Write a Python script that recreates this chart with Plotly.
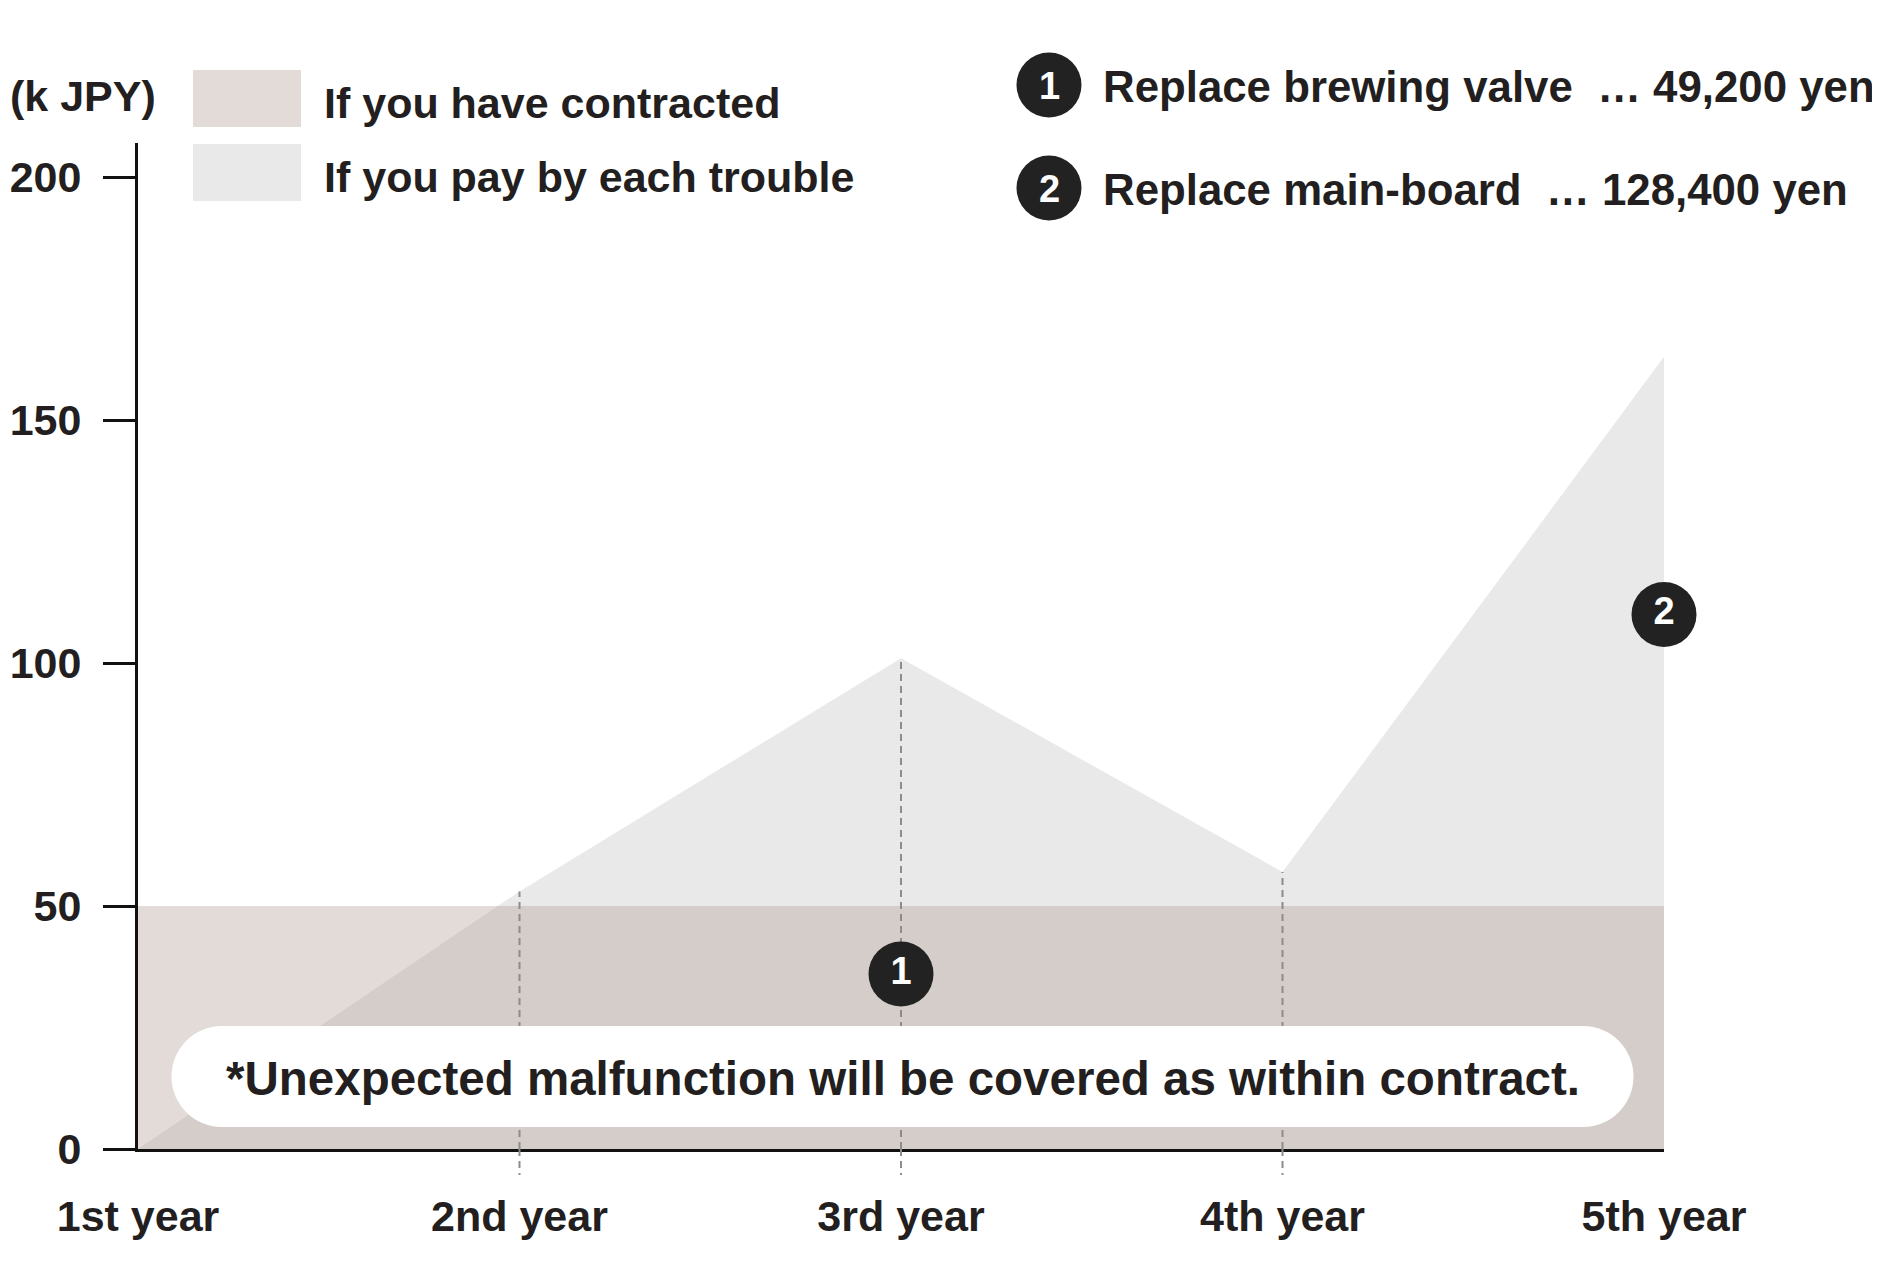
import plotly.graph_objects as go

# ---------------- data ----------------
years = ["1st year", "2nd year", "3rd year", "4th year", "5th year"]
pay_per_trouble = [0, 53, 101, 57, 163]      # k JPY
contracted = [50, 50, 50, 50, 50]            # k JPY
y_ticks = [0, 50, 100, 150, 200]
badge_labels = ["1", "2"]
badge_years = [2, 4]
badge_values = [36, 110]
repair_items = ["Replace brewing valve\u00a0\u00a0… 49,200 yen",
                "Replace main-board\u00a0\u00a0… 128,400 yen"]
legend_names = ["If you have contracted", "If you pay by each trouble"]
note_text = "*Unexpected malfunction will be covered as within contract."

# ---------------- layout constants ----------------
OFF = 8                      # default page body margin
W, H = 1880 - OFF, 1288 - OFF
L, T = 138 - OFF, 143 - OFF
R = W - (1664 - OFF)
B = H - (1149 - OFF)
PW, PH = W - L - R, H - T - B
FONT = "Liberation Sans"
DARK = "#231f20"
BEIGE = "#e3dbd7"
GRAY = "#e9e9e9"
DASH = dict(color="#8c8c8c", width=2, dash="7px,5px")


def px(x):
    return (x - OFF - L) / PW


def py(y):
    return (H - B - (y - OFF)) / PH


x_idx = list(range(len(years)))

fig = go.Figure()
fig.add_trace(go.Scatter(x=x_idx, y=pay_per_trouble, mode="lines", fill="tozeroy",
                         fillcolor=GRAY, line=dict(width=0), hoverinfo="skip",
                         name=legend_names[1], showlegend=False))
fig.add_trace(go.Scatter(x=x_idx, y=contracted, mode="lines", fill="tozeroy",
                         fillcolor="rgba(178,156,145,0.364)", line=dict(width=0),
                         hoverinfo="skip", name=legend_names[0], showlegend=False))

shapes = []
annotations = []

# dashed guide lines at intermediate years
for i in x_idx[1:-1]:
    fig.add_trace(go.Scatter(x=[i, i], y=[0, pay_per_trouble[i]], mode="lines",
                             line=DASH, hoverinfo="skip", showlegend=False))
    shapes.append(dict(type="line", xref="x", yref="paper", x0=i, x1=i, y0=0,
                       y1=-26 / PH, line=DASH, layer="above"))

# badges in the chart
fig.add_trace(go.Scatter(x=badge_years, y=badge_values, mode="markers+text",
                         text=badge_labels, textposition="middle center",
                         marker=dict(size=65, color="#222222", line=dict(width=0)),
                         textfont=dict(family=FONT, size=38, color="white", weight=700),
                         cliponaxis=False, hoverinfo="skip", showlegend=False))

# rounded note box (pill) in pixel units around anchor
hw, hh = 731, 50.5
r = hh
k = 0.5523 * r
path = (f"M{-hw + r},{hh} L{hw - r},{hh} "
        f"C{hw - r + k},{hh} {hw},{k} {hw},0 "
        f"C{hw},{-k} {hw - r + k},{-hh} {hw - r},{-hh} "
        f"L{-hw + r},{-hh} "
        f"C{-hw + r - k},{-hh} {-hw},{-k} {-hw},0 "
        f"C{-hw},{k} {-hw + r - k},{hh} {-hw + r},{hh} Z")
shapes.append(dict(type="path", xref="paper", yref="paper", xsizemode="pixel",
                   ysizemode="pixel", xanchor=px(902.5), yanchor=py(1076.5), path=path,
                   fillcolor="white", line=dict(width=0), layer="above"))
annotations.append(dict(x=px(902.5), y=py(1078), xref="paper", yref="paper",
                        text=note_text, showarrow=False, xanchor="center", yanchor="middle",
                        font=dict(family=FONT, size=47.5, color=DARK, weight=700)))

# legend swatches + labels
for (y0, y1, col, name) in [(70, 127, BEIGE, legend_names[0]),
                            (144, 201, GRAY, legend_names[1])]:
    shapes.append(dict(type="rect", xref="paper", yref="paper", x0=px(193), x1=px(301),
                       y0=py(y1), y1=py(y0), fillcolor=col, line=dict(width=0),
                       layer="above"))
    annotations.append(dict(x=px(322), y=py((y0 + y1) / 2 + 4), xref="paper", yref="paper",
                            text=name, showarrow=False, xanchor="left", yanchor="middle",
                            font=dict(family=FONT, size=43, color=DARK, weight=700)))

# unit label
annotations.append(dict(x=px(8), y=py(96), xref="paper", yref="paper", text="(k JPY)",
                        showarrow=False, xanchor="left", yanchor="middle",
                        font=dict(family=FONT, size=43, color=DARK, weight=700)))

# repair item list with numbered circles
for j, (cy, label) in enumerate(zip([85, 188], repair_items)):
    shapes.append(dict(type="circle", xref="paper", yref="paper", xsizemode="pixel",
                       ysizemode="pixel", xanchor=px(1049), yanchor=py(cy),
                       x0=-32.5, x1=32.5, y0=-32.5, y1=32.5,
                       fillcolor="#222222", line=dict(width=0), layer="above"))
    annotations.append(dict(x=px(1049), y=py(cy + 1), xref="paper", yref="paper",
                            text=badge_labels[j], showarrow=False, xanchor="center",
                            yanchor="middle",
                            font=dict(family=FONT, size=38, color="white", weight=700)))
    annotations.append(dict(x=px(1101), y=py(cy + 1), xref="paper", yref="paper",
                            text=label, showarrow=False, xanchor="left", yanchor="middle",
                            font=dict(family=FONT, size=43.8, color=DARK, weight=700)))

fig.update_layout(
    width=W, height=H,
    margin=dict(l=L, r=R, t=T, b=B, pad=0, autoexpand=False),
    paper_bgcolor="white", plot_bgcolor="white",
    showlegend=False,
    font=dict(family=FONT, color=DARK),
)
fig.layout.shapes = shapes
fig.layout.annotations = annotations
fig.update_xaxes(range=[0, 4], tickvals=x_idx, ticktext=years, showgrid=False,
                 zeroline=False, showline=True, linecolor="#111111", linewidth=3,
                 ticks="outside", ticklen=0, tickcolor="rgba(0,0,0,0)",
                 ticklabelstandoff=27, automargin=False,
                 tickfont=dict(family=FONT, size=43, color=DARK, weight=700))
fig.update_yaxes(range=[0, 207], tickvals=y_ticks, showgrid=False, zeroline=False,
                 showline=True, linecolor="#111111", linewidth=3,
                 ticks="outside", ticklen=32, tickwidth=3, tickcolor="#111111",
                 ticklabelstandoff=13, automargin=False,
                 tickfont=dict(family=FONT, size=43, color=DARK, weight=700))

fig.write_html("out.html")
